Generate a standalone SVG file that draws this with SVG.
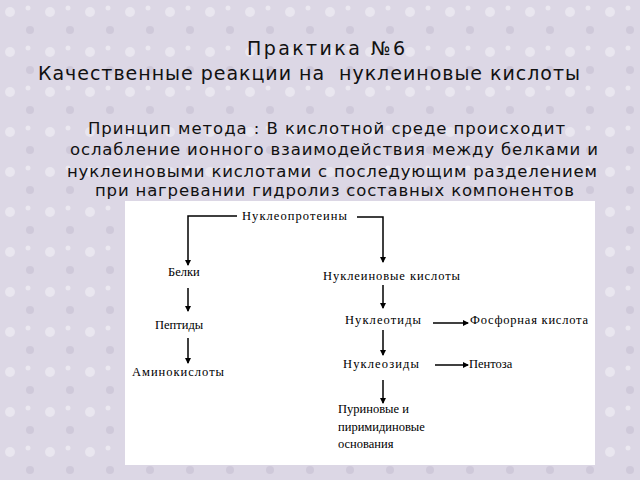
<svg xmlns="http://www.w3.org/2000/svg" width="640" height="480" viewBox="0 0 640 480">
<style>
.h{font-family:"DejaVu Sans","Liberation Sans",sans-serif;font-size:19px;fill:#111}
.p{font-family:"DejaVu Sans","Liberation Sans",sans-serif;font-size:16.5px;fill:#111}
.n{font-family:"Liberation Serif","Times New Roman",serif;font-size:12.5px;fill:#000}
.c line,.c polyline{stroke:#000;stroke-width:1.5;fill:none}
</style>
<defs>
<marker id="a" markerWidth="6" markerHeight="6" refX="5" refY="3" orient="auto" markerUnits="userSpaceOnUse"><path d="M0,0 L6,3 L0,6Z" fill="#000"/></marker>
<pattern id="bg" width="40" height="40" patternUnits="userSpaceOnUse">
<rect width="40" height="40" fill="#dcd7e5"/>
<circle cx="10" cy="12" r="5" fill="#e9e6ef"/><circle cx="30" cy="30" r="4" fill="#cfc9da"/><circle cx="28" cy="8" r="2.5" fill="#ebe8f0"/>
</pattern>
</defs>
<rect width="640" height="480" fill="url(#bg)"/>
<text class="h" x="247" y="55" textLength="158" font-size="21">Практика №6</text>
<text class="h" x="38" y="80" textLength="542" xml:space="preserve">Качественные реакции на  нуклеиновые кислоты</text>
<text class="p" x="88" y="134" textLength="477">Принцип метода : В кислотной среде происходит</text>
<text class="p" x="70" y="155" textLength="528">ослабление ионного взаимодействия между белками и</text>
<text class="p" x="67" y="177" textLength="530">нуклеиновыми кислотами с последующим разделением</text>
<text class="p" x="95" y="196" textLength="479">при нагревании гидролиз составных компонентов</text>
<rect x="125" y="201" width="470" height="264" fill="#fff"/>
<g class="c" id="connectors">
<polyline points="237,216 188,216 188,265" marker-end="url(#a)"/>
<polyline points="357,217 383,217 383,262" marker-end="url(#a)"/>
<line x1="188" y1="288" x2="188" y2="311" marker-end="url(#a)"/>
<line x1="188" y1="338" x2="188" y2="363" marker-end="url(#a)"/>
<line x1="383" y1="285" x2="383" y2="308" marker-end="url(#a)"/>
<line x1="383" y1="330" x2="383" y2="355" marker-end="url(#a)"/>
<line x1="383" y1="380" x2="383" y2="403" marker-end="url(#a)"/>
<line x1="433" y1="323" x2="468" y2="323" marker-end="url(#a)"/>
<line x1="435" y1="365" x2="468" y2="365" marker-end="url(#a)"/>
</g>
<g id="n1"><text class="n" x="242" y="220" textLength="105">Нуклеопротеины</text></g>
<g id="n2"><text class="n" x="168" y="276">Белки</text></g>
<g id="n3"><text class="n" x="155" y="329">Пептиды</text></g>
<g id="n4"><text class="n" x="132" y="376" textLength="92">Аминокислоты</text></g>
<g id="n5"><text class="n" x="323" y="280" textLength="137">Нуклеиновые кислоты</text></g>
<g id="n6"><text class="n" x="345" y="324" textLength="76">Нуклеотиды</text></g>
<g id="n7"><text class="n" x="470" y="324" textLength="118">Фосфорная кислота</text></g>
<g id="n8"><text class="n" x="343" y="368" textLength="76">Нуклеозиды</text></g>
<g id="n9"><text class="n" x="469" y="368">Пентоза</text></g>
<g id="n10"><text class="n" x="338" y="413">Пуриновые и</text><text class="n" x="338" y="431">пиримидиновые</text><text class="n" x="338" y="448">основания</text></g>
</svg>
